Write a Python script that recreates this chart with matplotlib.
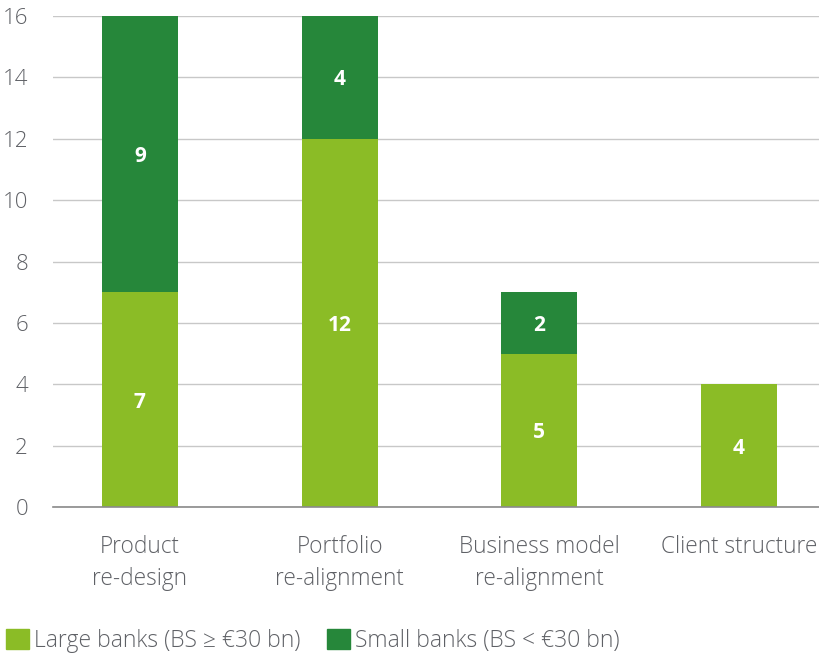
import matplotlib
matplotlib.use("Agg")
import matplotlib.pyplot as plt
from matplotlib.patches import Patch

categories = ["Product\nre-design", "Portfolio\nre-alignment", "Business model\nre-alignment", "Client structure"]
large_banks = [7, 12, 5, 4]
small_banks = [9, 4, 2, 0]
yticks = [0, 2, 4, 6, 8, 10, 12, 14, 16]

c_large = "#8bbc26"
c_small = "#26873a"
txt = "#5f6166"

plt.rcParams['font.family'] = ['Open Sans', 'DejaVu Sans']

fig = plt.figure(figsize=(8.2, 6.59), dpi=100)
ax = fig.add_axes([53/820, 1-507/659, (820-53)/820, (507-16)/659])

x = list(range(len(categories)))
w = 0.38
ax.bar(x, large_banks, width=w, color=c_large, zorder=3)
ax.bar(x, small_banks, width=w, bottom=large_banks, color=c_small, zorder=3)

for i in x:
    if large_banks[i]:
        ax.text(i, large_banks[i]/2, str(large_banks[i]), ha='center', va='center_baseline',
                color='white', fontsize=15, fontweight='bold', zorder=4)
    if small_banks[i]:
        ax.text(i, large_banks[i] + small_banks[i]/2, str(small_banks[i]), ha='center', va='center_baseline',
                color='white', fontsize=15, fontweight='bold', zorder=4)

ax.set_xlim(-0.435, 3.405)
ax.set_ylim(0, 16)
ax.set_yticks(yticks)
ax.set_yticklabels([str(t) for t in yticks], fontsize=16, color=txt, fontweight='light')
ax.set_xticks(x)
ax.set_xticklabels(categories, fontsize=16.3, color=txt, fontweight='light', linespacing=1.45)
ax.tick_params(axis='both', length=0)
ax.tick_params(axis='y', pad=18)
ax.tick_params(axis='x', pad=20)
ax.grid(axis='y', color='#c8c8c8', linewidth=1, zorder=0)
for s in ['top', 'right', 'left']:
    ax.spines[s].set_visible(False)
ax.spines['bottom'].set_color('#8a8a8a')
ax.spines['bottom'].set_linewidth(1.2)
ax.spines['bottom'].set_zorder(5)

handles = [Patch(color=c_large, label="Large banks (BS ≥ €30 bn)"),
           Patch(color=c_small, label="Small banks (BS < €30 bn)")]
leg = fig.legend(handles=handles, loc='lower left', bbox_to_anchor=(6/820, 6/659), ncol=2, frameon=False,
                 fontsize=16.5, handlelength=1.0, handleheight=1.0, handletextpad=0.22, columnspacing=1.15,
                 borderaxespad=0, borderpad=0)
for t in leg.get_texts():
    t.set_color(txt)
    t.set_fontweight('light')

fig.savefig("out.png", dpi=100)
